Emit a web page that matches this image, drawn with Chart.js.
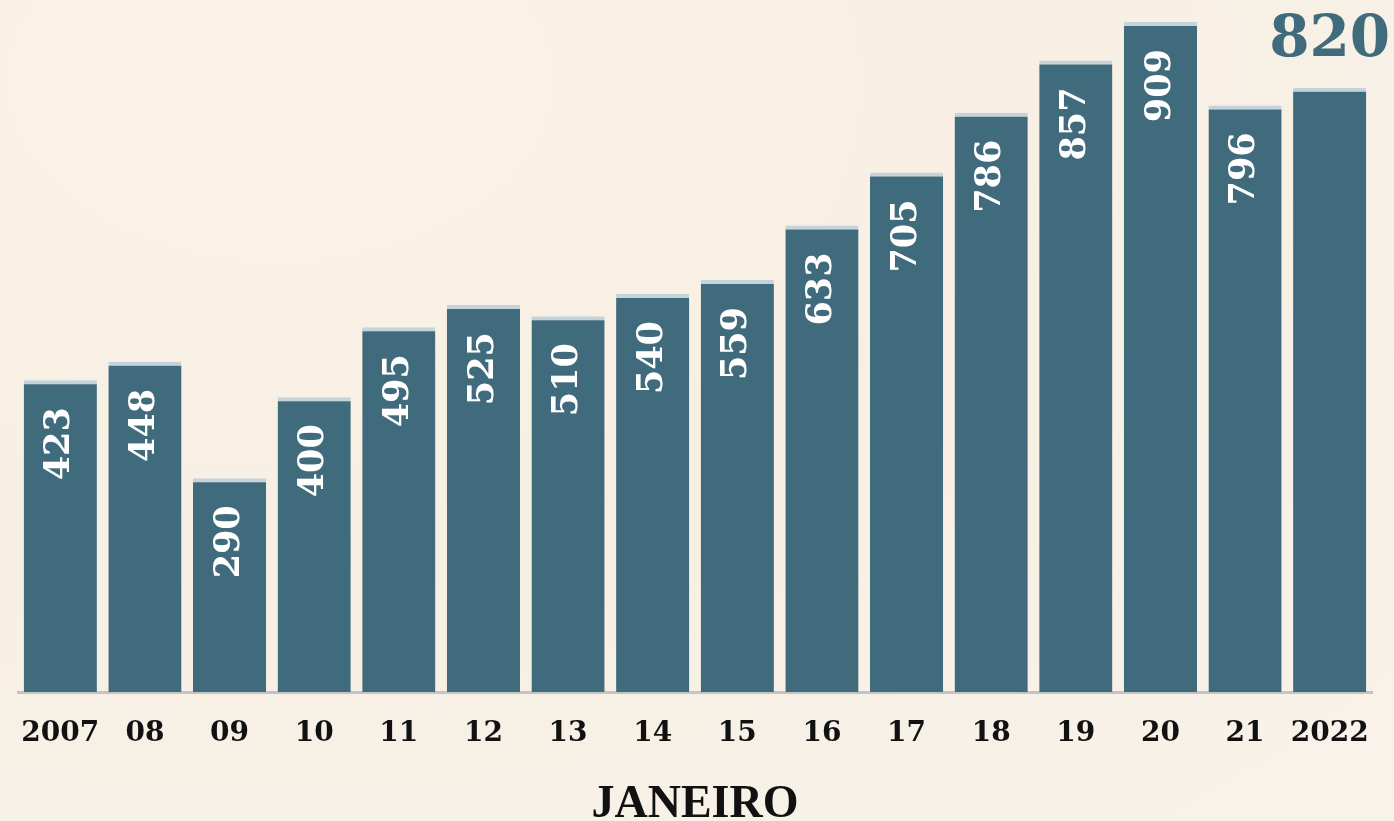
<!DOCTYPE html>
<html>
<head>
<meta charset="utf-8">
<script src="https://cdn.jsdelivr.net/npm/chart.js@4/dist/chart.umd.min.js"></script>
<style>
  html, body { margin: 0; padding: 0; }
  body {
    width: 1394px; height: 821px; overflow: hidden;
    background: radial-gradient(ellipse at 20% 10%, #faf3e6 0%, #f7efe3 45%, #f8f2ea 100%);
  }
  #wrap { position: relative; width: 1394px; height: 821px; }
</style>
</head>
<body>
<div id="wrap"><canvas id="chart" width="1394" height="821"></canvas></div>
<script>
// Janeiro values per year
const years = ['2007', '08', '09', '10', '11', '12', '13', '14', '15', '16', '17', '18', '19', '20', '21', '2022'];
const values = [423, 448, 290, 400, 495, 525, 510, 540, 559, 633, 705, 786, 857, 909, 796, 820];
const axisTitle = 'JANEIRO';

const barColor = '#406b7c';
const capColor = '#c6d3da';

// Value labels: rotated inside bars, last one big above the bar
const valueLabels = {
    id: 'valueLabels',
    afterDatasetsDraw(chart) {
        const ctx = chart.ctx;
        const meta = chart.getDatasetMeta(0);
        meta.data.forEach((bar, i) => {
            const text = String(values[i]);
            ctx.save();
            if (i === values.length - 1) {
                ctx.fillStyle = barColor;
                ctx.font = 'bold 58px "DejaVu Serif", serif';
                ctx.textAlign = 'center';
                ctx.textBaseline = 'alphabetic';
                ctx.fillText(text, bar.x, bar.y - 32);
            } else {
                ctx.translate(bar.x, bar.y + 27);
                ctx.rotate(-Math.PI / 2);
                ctx.fillStyle = '#ffffff';
                ctx.font = 'bold 35px "DejaVu Serif", serif';
                ctx.textAlign = 'right';
                ctx.textBaseline = 'middle';
                ctx.fillText(text, 0, 0);
            }
            ctx.restore();
        });
    }
};

new Chart(document.getElementById('chart'), {
    type: 'bar',
    data: {
        labels: years,
        datasets: [{
            data: values,
            backgroundColor: barColor,
            borderColor: capColor,
            borderWidth: { top: 4, left: 0, right: 0, bottom: 0 },
            borderSkipped: false,
            barPercentage: 0.865,
            categoryPercentage: 1
        }]
    },
    options: {
        responsive: false,
        animation: false,
        layout: { padding: { left: 18, right: 22, top: 0, bottom: 0 } },
        plugins: {
            legend: { display: false },
            tooltip: { enabled: false }
        },
        scales: {
            x: {
                grid: { display: false, drawTicks: false },
                border: { display: true, color: '#c4c4c4', width: 3 },
                ticks: {
                    color: '#111',
                    padding: 25,
                    font: { family: '"DejaVu Serif", serif', weight: 'bold', size: 28 }
                },
                title: {
                    display: true,
                    text: axisTitle,
                    color: '#111',
                    font: { family: '"Liberation Serif", serif', weight: 'bold', size: 46 },
                    padding: { top: 0, bottom: -12 }
                },
                afterFit(scale) {
                    scale.height = 821 - 692;
                    scale.paddingLeft = 0;
                    scale.paddingRight = 0;
                }
            },
            y: {
                display: false,
                min: 0,
                max: 939
            }
        }
    },
    plugins: [valueLabels]
});
</script>
</body>
</html>
